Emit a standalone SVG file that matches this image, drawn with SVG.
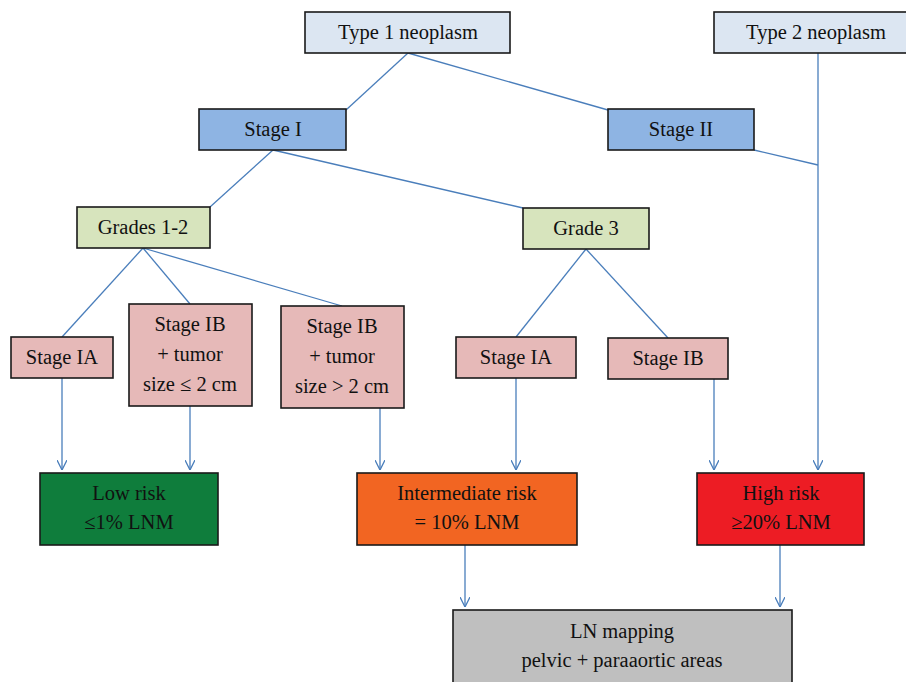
<svg xmlns="http://www.w3.org/2000/svg" width="906" height="682" viewBox="0 0 906 682">
<style>
  .box{stroke:#1a1a1a;stroke-width:1.6}
  .t1{fill:#dce6f2}
  .st{fill:#8eb4e3}
  .gr{fill:#d7e4bd}
  .sg{fill:#e6b9b8}
  text{font-family:"Liberation Serif","Times New Roman",serif;font-size:20.5px;fill:#111;text-anchor:middle}
  .c line,.c path{stroke:#4a7ebb;stroke-width:1.3;fill:none}
</style>
<defs>
  <marker id="ah" viewBox="0 0 10 10" refX="10" refY="5" markerWidth="10" markerHeight="10" markerUnits="userSpaceOnUse" orient="auto">
    <path d="M0,0 L10,5 L0,10" fill="none" stroke="#4a7ebb" stroke-width="1.3"/>
  </marker>
</defs>
<rect width="906" height="682" fill="#fff"/>

<g class="c">
  <line x1="408" y1="53" x2="346" y2="110"/>
  <line x1="408" y1="53" x2="608" y2="110"/>
  <line x1="754" y1="150" x2="818" y2="165"/>
  <line x1="273" y1="150" x2="210" y2="207"/>
  <line x1="273" y1="150" x2="523" y2="208"/>
  <line x1="143" y1="248" x2="62" y2="337"/>
  <line x1="143" y1="248" x2="190" y2="304"/>
  <line x1="143" y1="248" x2="342" y2="306"/>
  <line x1="586" y1="249" x2="516" y2="337"/>
  <line x1="586" y1="249" x2="668" y2="338"/>
  <path d="M818,53 V470" marker-end="url(#ah)"/>
  <path d="M62,378 V470" marker-end="url(#ah)"/>
  <path d="M190,406 V470" marker-end="url(#ah)"/>
  <path d="M380,408 V470" marker-end="url(#ah)"/>
  <path d="M516,378 V470" marker-end="url(#ah)"/>
  <path d="M714,379 V470" marker-end="url(#ah)"/>
  <path d="M465,545 V607" marker-end="url(#ah)"/>
  <path d="M780,545 V607" marker-end="url(#ah)"/>
</g>

<g id="type1"><rect class="box t1" x="305" y="12" width="205" height="41"/><text x="408" y="39">Type 1 neoplasm</text></g>
<g id="type2"><rect class="box t1" x="714" y="12" width="194" height="41"/><text x="816" y="39">Type 2 neoplasm</text></g>
<g id="stage1"><rect class="box st" x="199" y="109" width="147" height="41"/><text x="273" y="136">Stage I</text></g>
<g id="stage2"><rect class="box st" x="608" y="109" width="146" height="41"/><text x="681" y="136">Stage II</text></g>
<g id="grades12"><rect class="box gr" x="77" y="207" width="133" height="41"/><text x="143" y="234">Grades 1-2</text></g>
<g id="grade3"><rect class="box gr" x="523" y="208" width="126" height="41"/><text x="586" y="235">Grade 3</text></g>
<g id="stageIA1"><rect class="box sg" x="11" y="337" width="102" height="41"/><text x="62" y="364">Stage IA</text></g>
<g id="stageIBle"><rect class="box sg" x="129" y="304" width="123" height="102"/><text x="190" y="331">Stage IB</text><text x="190" y="361">+ tumor</text><text x="190" y="391">size ≤ 2 cm</text></g>
<g id="stageIBgt"><rect class="box sg" x="281" y="306" width="123" height="102"/><text x="342" y="333">Stage IB</text><text x="342" y="363">+ tumor</text><text x="342" y="393">size &gt; 2 cm</text></g>
<g id="stageIA2"><rect class="box sg" x="456" y="337" width="120" height="41"/><text x="516" y="364">Stage IA</text></g>
<g id="stageIB2"><rect class="box sg" x="608" y="338" width="120" height="41"/><text x="668" y="365">Stage IB</text></g>
<g id="lowrisk"><rect class="box" fill="#0f7d3c" x="40" y="473" width="178" height="72"/><text x="129" y="500">Low risk</text><text x="129" y="529">≤1% LNM</text></g>
<g id="intrisk"><rect class="box" fill="#f26522" x="357" y="473" width="220" height="72"/><text x="467" y="500">Intermediate risk</text><text x="467" y="529">= 10% LNM</text></g>
<g id="highrisk"><rect class="box" fill="#ed1c24" x="697" y="473" width="167" height="72"/><text x="781" y="500">High risk</text><text x="781" y="529">≥20% LNM</text></g>
<g id="lnmap"><rect class="box" fill="#bfbfbf" x="453" y="610" width="339" height="80"/><text x="622" y="638">LN mapping</text><text x="622" y="667">pelvic + paraaortic areas</text></g>
</svg>
